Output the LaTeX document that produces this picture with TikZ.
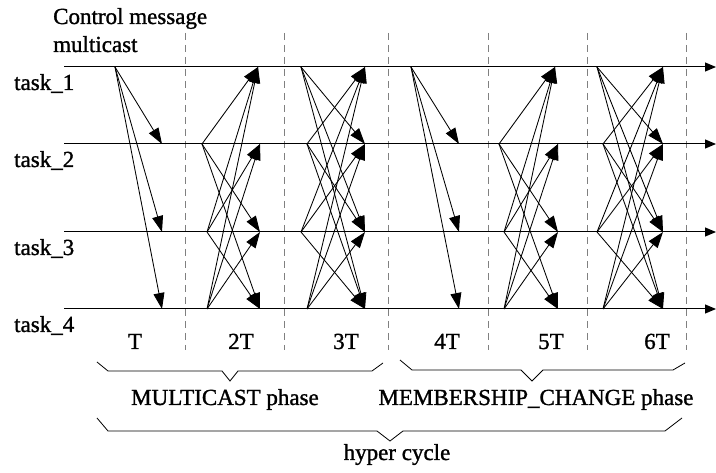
\documentclass[tikz,border=0pt]{standalone}
\usepackage{fontspec}
\setmainfont{Liberation Serif}
\newfontfamily\lblfont[FakeBold=1.2]{Liberation Serif}
\usetikzlibrary{arrows.meta}
\begin{document}
\begin{tikzpicture}[x=1pt,y=-1pt,
  msg/.style={-{Triangle[length=16pt,width=11pt]}, line width=0.85pt},
  tline/.style={-{Triangle[length=11pt,width=9pt]}, line width=1pt},
  sep/.style={gray, dash pattern=on 7pt off 5pt, line width=1pt},
  lbl/.style={font=\lblfont\fontsize{23}{27}\selectfont, inner sep=0pt},
  bracepath/.style={line width=0.8pt}]
\useasboundingbox (0,0) rectangle (716,473);

% dashed separators
\foreach \x [count=\k] in {185,284,388,488,587,686} {
  \coordinate (dt\k) at (\x,33);
  \coordinate (db\k) at (\x,350);
  \draw[sep] (dt\k) -- (db\k);
}

% task lines and labels
\foreach \i/\y in {1/67,2/144,3/232,4/309} {
  \coordinate (L\i) at (64,\y);
  \coordinate (R\i) at (716,\y);
  \draw[tline] (L\i) -- (R\i);
  \node[lbl, anchor=base west] (task\i) at (14,\y+23) {task\_\i};
}

% message end points
\foreach \k/\y in {1/67,2/144,3/232,4/309} {
  \coordinate (S1-\k) at (115,\y);
  \coordinate (D1-\k) at (162,\y);
  \coordinate (S4-\k) at (411,\y);
  \coordinate (D4-\k) at (459,\y);
  \coordinate (D3-\k) at (365,\y);
  \coordinate (D6-\k) at (663,\y);
}
\foreach \k/\y in {2/144,3/232,4/309} {
  \coordinate (D2-\k) at (260,\y);
  \coordinate (D5-\k) at (558,\y);
}
\coordinate (D2-1) at (258,67);
\coordinate (D5-1) at (555,67);
\coordinate (S2-2) at (202,144);
\coordinate (S2-3) at (207,232);
\coordinate (S2-4) at (207,309);
\coordinate (S5-2) at (499,144);
\coordinate (S5-3) at (504,232);
\coordinate (S5-4) at (504,309);
\foreach \k/\y/\o in {1/67/0,2/144/6,3/232/0,4/309/6} {
  \coordinate (S3-\k) at (301+\o,\y);
  \coordinate (S6-\k) at (597+\o,\y);
}

% messages
\foreach \c in {1,4}
  \foreach \j in {2,3,4}
    \draw[msg] (S\c-1) -- (D\c-\j);
\foreach \c in {2,5}
  \foreach \i in {2,3,4}
    \foreach \j in {1,2,3,4} {
      \ifnum\i=\j\relax\else\draw[msg] (S\c-\i) -- (D\c-\j);\fi
    }
\foreach \c in {3,6}
  \foreach \i in {1,2,3,4}
    \foreach \j in {1,2,3,4} {
      \ifnum\i=\j\relax\else\draw[msg] (S\c-\i) -- (D\c-\j);\fi
    }

% headings
\node[lbl, anchor=base west] (ctl1) at (53,24) {Control message};
\node[lbl, anchor=base west] (ctl2) at (53,52) {multicast};

% period labels
\foreach \x/\t [count=\k] in {135/T,241/2T,346/3T,447/4T,551/5T,657/6T}
  \node[lbl, anchor=base] (per\k) at (\x,349) {\t};

% braces
\draw[bracepath] (97,362) -- (108,371) -- (222,371) -- (230,381) -- (238,371) -- (372,371) -- (383,363);
\draw[bracepath] (400,360) -- (412,370) -- (521,370) -- (532,381) -- (543,370) -- (673,370) -- (685,363);
\draw[bracepath] (97,418) -- (108,431) -- (377,431) -- (390,441) -- (403,431) -- (665,431) -- (682,418);

\node[lbl, anchor=base] (mph) at (225,405) {MULTICAST phase};
\node[lbl, anchor=base] (mcp) at (536,405) {MEMBERSHIP\_CHANGE phase};
\node[lbl, anchor=base] (hyp) at (397,460) {hyper cycle};
\end{tikzpicture}
\end{document}
